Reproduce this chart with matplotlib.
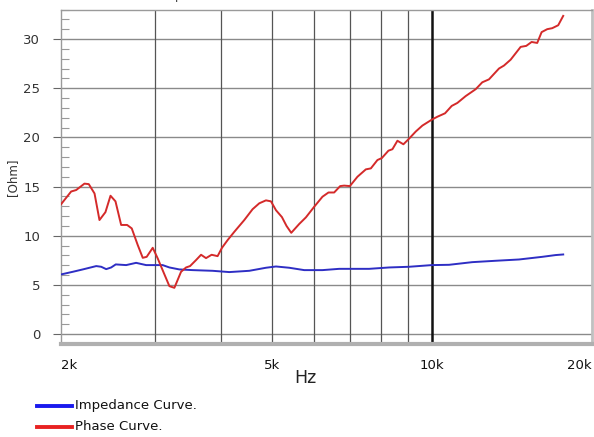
import matplotlib
matplotlib.use("Agg")
import matplotlib.pyplot as plt
from matplotlib.ticker import FixedLocator, NullFormatter, NullLocator
from matplotlib.lines import Line2D

# ---- data (frequency in Hz, values in Ohm) ----
phase_freq = [2000, 2090, 2136, 2214, 2256, 2313, 2363, 2425, 2479, 2533, 2596, 2664, 2718,
              2790, 2851, 2900, 2977, 3042, 3108, 3200, 3270, 3366, 3440, 3500, 3592, 3671,
              3751, 3843, 3944, 4020, 4119, 4240, 4428, 4590, 4725, 4864, 4971, 5080, 5213,
              5318, 5428, 5619, 5784, 5996, 6215, 6379, 6538, 6711, 6828, 6999, 7233, 7501,
              7666, 7888, 8040, 8273, 8418, 8602, 8828, 9021, 9315, 9585, 9983, 10228, 10575,
              10886, 11153, 11566, 12078, 12428, 12795, 13361, 13653, 14055, 14678, 15037,
              15393, 15771, 16075, 16470, 16830, 17274, 17652]
phase_vals = [13.2, 14.5, 14.65, 15.3, 15.25, 14.3, 11.6, 12.4, 14.07, 13.5, 11.1, 11.1, 10.75,
              9.05, 7.76, 7.86, 8.78, 7.7, 6.5, 4.88, 4.71, 6.34, 6.78, 6.92, 7.53, 8.07,
              7.73, 8.07, 7.93, 8.78, 9.56, 10.4, 11.6, 12.7, 13.3, 13.6, 13.5, 12.6, 11.9,
              11.0, 10.3, 11.2, 11.87, 12.95, 13.97, 14.4, 14.4, 15.05, 15.1, 15.05, 16.0, 16.75,
              16.85, 17.7, 17.9, 18.65, 18.8, 19.66, 19.3, 19.8, 20.6, 21.2, 21.8, 22.1, 22.45,
              23.2, 23.5, 24.2, 24.9, 25.6, 25.9, 27.0, 27.3, 27.9, 29.2, 29.3,
              29.7, 29.6, 30.7, 31.0, 31.1, 31.4, 32.35]

imp_freq = [2000, 2105, 2198, 2330, 2381, 2433, 2486, 2536, 2653, 2770, 2893, 3108, 3200,
            3341, 3540, 3860, 4149, 4525, 4864, 5080, 5381, 5742, 6215, 6682, 7609, 8298,
            9049, 9983, 10760, 11902, 13171, 14571, 16118, 17082, 17652]
imp_vals = [6.07, 6.34, 6.58, 6.92, 6.85, 6.61, 6.78, 7.09, 7.02, 7.25, 7.02, 7.02, 6.78,
            6.58, 6.51, 6.44, 6.31, 6.44, 6.75, 6.88, 6.75, 6.51, 6.51, 6.64, 6.64, 6.78,
            6.85, 7.02, 7.05, 7.32, 7.46, 7.59, 7.86, 8.04, 8.1]

x_ticks = [2000, 5000, 10000, 20000]
x_tick_labels = ["2k", "5k", "10k", "20k"]
x_grid = [3000, 4000, 5000, 6000, 7000, 8000, 9000]
y_ticks = [0, 5, 10, 15, 20, 25, 30]
series_labels = ["Impedance Curve.", "Phase Curve."]
legend_colors = ["#1a1aee", "#e82222"]

# ---- figure ----
W, H = 594, 437
fig = plt.figure(figsize=(W / 100, H / 100), dpi=100)
left, right, top, bottom = 61, 592, 9.5, 344
ax = fig.add_axes([left / W, 1 - bottom / H, (right - left) / W, (bottom - top) / H])

ax.set_xscale("log")
ax.set_xlim(2000, 20000)
ax.set_ylim(-1.0, 33.0)

# grid
for y in y_ticks:
    ax.axhline(y, color="#8a8a8a", lw=1.0, zorder=1)
for x in x_grid:
    ax.axvline(x, color="#555555", lw=0.9, zorder=1)
ax.axvline(10000, color="#111111", lw=1.8, zorder=1)

ax.plot(imp_freq, imp_vals, color="#2e2ec4", lw=1.4, zorder=3, label=series_labels[0])
ax.plot(phase_freq, phase_vals, color="#d42a2a", lw=1.4, zorder=3, label=series_labels[1])

# ticks
ax.xaxis.set_major_locator(FixedLocator(x_ticks))
ax.xaxis.set_minor_locator(NullLocator())
ax.set_xticklabels(x_tick_labels)
ax.tick_params(axis="x", length=0, labelsize=9.5, pad=11, labelcolor="#111111")
lbls = ax.get_xticklabels()
lbls[0].set_ha("left")
lbls[-1].set_ha("right")

ax.set_yticks(y_ticks)
ax.set_yticks(list(range(-1, 34)), minor=True)
ax.yaxis.set_minor_formatter(NullFormatter())
ax.tick_params(axis="y", which="major", length=6, direction="out", color="#666666",
               labelsize=9.5, labelcolor="#333333", pad=9)
ax.tick_params(axis="y", which="minor", length=6, direction="in", color="#999999", width=0.8)

for s in ["top", "left"]:
    ax.spines[s].set_color("#9a9a9a")
    ax.spines[s].set_linewidth(1.0)
ax.spines["bottom"].set_color("#b0b0b0")
ax.spines["bottom"].set_linewidth(3.0)
ax.spines["right"].set_color("#c0c0c0")
ax.spines["right"].set_linewidth(2.0)

ax.set_ylabel("[Ohm]", fontsize=8.5, color="#333333", labelpad=3)
fig.text(305 / W, 1 - 378 / H, "Hz", fontsize=12.5, ha="center", va="center", color="#222222")

# clipped titles at the top edge (cut off in the reference as well)
fig.text(193 / W, 1 - 2 / H, "Impedance", fontsize=8, ha="center", va="bottom", color="#333333")
fig.text(460 / W, 1 - 2 / H, "Phase", fontsize=8, ha="center", va="bottom", color="#333333")

# legend (drawn manually to match positions)
for i, (lab, col) in enumerate(zip(series_labels, legend_colors)):
    yy = 1 - (406 + 21 * i) / H
    fig.add_artist(Line2D([37 / W, 72 / W], [yy, yy], color=col, lw=2.8,
                          transform=fig.transFigure))
    fig.text(75 / W, yy, lab, fontsize=9.5, ha="left", va="center", color="#111111")

fig.savefig("out.png", dpi=100)
